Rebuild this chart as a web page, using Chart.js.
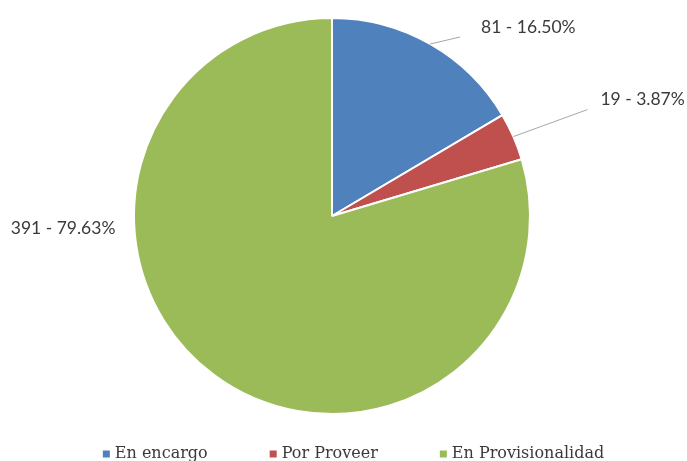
<!DOCTYPE html>
<html>
<head>
<meta charset="utf-8">
<script src="https://cdn.jsdelivr.net/npm/chart.js@4"></script>
<style>
  html, body { margin: 0; padding: 0; background: #fff; }
</style>
</head>
<body>
<canvas id="myPieChart" width="687" height="461"></canvas>
<script>
const categories = ['En encargo', 'Por Proveer', 'En Provisionalidad'];
const counts = [81, 19, 391];
const percents = ['16.50%', '3.87%', '79.63%'];
const colors = ['#4F81BD', '#C0504D', '#9BBB59'];

// where each outside label goes, relative to its slice's outer mid point
const labelOffsets = [
    { line: [30, -7], text: [51, -17] },
    { line: [74, -27], text: [87, -37] },
    { line: null, text: [-203, -146] }
];

const outsideLabels = {
    id: 'outsideLabels',
    afterDatasetsDraw(chart) {
        const ctx = chart.ctx;
        const arcs = chart.getDatasetMeta(0).data;
        ctx.save();
        ctx.font = '17.5px Lato';
        ctx.fillStyle = '#3a3a3a';
        ctx.textBaseline = 'middle';
        arcs.forEach((arc, i) => {
            const mid = (arc.startAngle + arc.endAngle) / 2;
            const px = arc.x + Math.cos(mid) * arc.outerRadius;
            const py = arc.y + Math.sin(mid) * arc.outerRadius;
            const off = labelOffsets[i];
            if (off.line) {
                ctx.strokeStyle = '#a6a6a6';
                ctx.lineWidth = 1;
                ctx.beginPath();
                ctx.moveTo(px, py);
                ctx.lineTo(px + off.line[0], py + off.line[1]);
                ctx.stroke();
            }
            ctx.textAlign = 'left';
            ctx.fillText(counts[i] + ' - ' + percents[i], px + off.text[0], py + off.text[1]);
        });
        ctx.restore();
    }
};

// legend row under the pie, with the wide spacing of the original
const bottomLegend = {
    id: 'bottomLegend',
    afterDraw(chart) {
        const ctx = chart.ctx;
        ctx.save();
        ctx.font = '16px "DejaVu Serif"';
        ctx.textBaseline = 'middle';
        ctx.textAlign = 'left';
        const box = 7, gapText = 5, gapItem = 62;
        const widths = categories.map(c => box + gapText + ctx.measureText(c).width);
        const total = widths.reduce((a, b) => a + b, 0) + gapItem * (categories.length - 1);
        let x = 353.5 - total / 2;
        const y = chart.height - 7;
        categories.forEach((c, i) => {
            ctx.fillStyle = colors[i];
            ctx.fillRect(x, y - box / 2, box, box);
            ctx.fillStyle = '#3a3a3a';
            ctx.fillText(c, x + box + gapText, y);
            x += widths[i] + gapItem;
        });
        ctx.restore();
    }
};

document.addEventListener('DOMContentLoaded', function () {
    const ctx = document.getElementById('myPieChart').getContext('2d');
    new Chart(ctx, {
        type: 'pie',
        data: {
            labels: categories,
            datasets: [{
                data: counts,
                backgroundColor: colors,
                borderColor: '#fff',
                borderWidth: 2
            }]
        },
        options: {
            responsive: false,
            animation: false,
            layout: { padding: { top: 17, bottom: 46, left: 0, right: 23 } },
            plugins: {
                tooltip: { enabled: false },
                legend: { display: false }
            }
        },
        plugins: [outsideLabels, bottomLegend]
    });
});
</script>
</body>
</html>
